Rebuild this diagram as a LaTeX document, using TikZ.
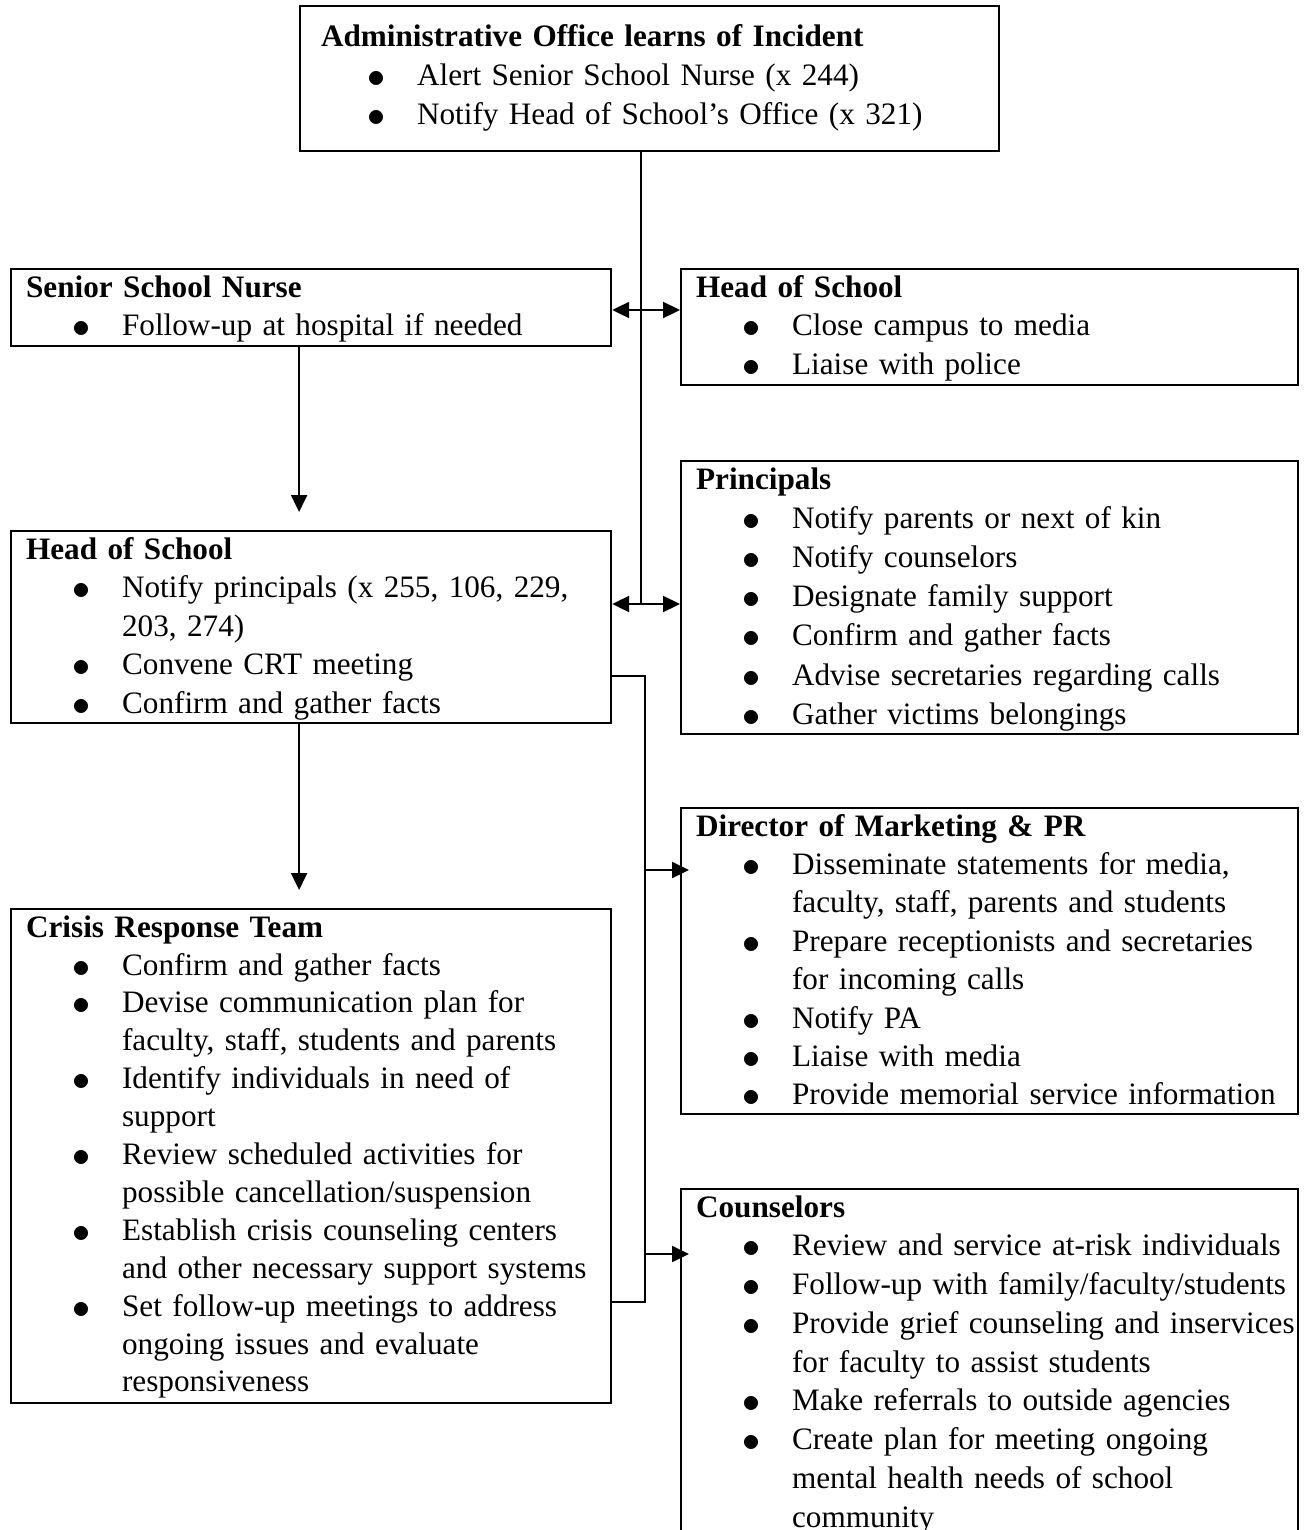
\documentclass[tikz,border=0pt]{standalone}
\usepackage{fontspec}
\setmainfont{Liberation Serif}
\usetikzlibrary{arrows.meta}

\newcommand\bulletmark{\raisebox{-2pt}{\scalebox{1.45}{$\bullet$}}}
\newenvironment{dotlist}{\begin{list}{\makebox[0pt][l]{\bulletmark}}{%
  \setlength{\leftmargin}{96pt}\setlength{\labelwidth}{0pt}%
  \setlength{\labelsep}{50pt}\setlength{\itemsep}{0pt}%
  \setlength{\rightmargin}{-200pt}%
  \setlength{\parsep}{0pt}\setlength{\topsep}{0pt}%
  \setlength{\partopsep}{0pt}\setlength{\itemindent}{0pt}}}{\end{list}}
\newcommand\row[1]{\mbox{#1}}

\begin{document}
\begin{tikzpicture}[x=1pt, y=-1pt,
    box/.style={draw, line width=2.2pt, anchor=north west, align=left,
      inner ysep=0pt, inner xsep=15pt, text height=28pt,
      font=\fontsize{31.2}{38.5}\selectfont},
    link/.style={line width=2.2pt},
    arr/.style={line width=2.2pt, -{Triangle[length=17pt,width=16pt]}},
    dbl/.style={line width=2.2pt,
      {Triangle[length=17pt,width=16pt]}-{Triangle[length=17pt,width=16pt]}}]
  \useasboundingbox (0,0) rectangle (1308,1530);

  % boxes
  \node[box, inner xsep=21pt, text width=657pt, text height=40pt, text depth=105pt,
        font=\fontsize{31.2}{39}\selectfont] (admin) at (299,5)
    {\textbf{Administrative Office learns of Incident}
     \begin{dotlist}
       \item \row{Alert Senior School Nurse (x 244)}
       \item \row{Notify Head of School’s Office (x 321)}
     \end{dotlist}};
  \node[box, text width=570pt, text depth=49pt] (nurse) at (10,268)
    {\textbf{Senior School Nurse}
     \begin{dotlist}
       \item \row{Follow-up at hospital if needed}
     \end{dotlist}};
  \node[box, text width=587pt, text depth=88pt] (hosR) at (680,268)
    {\textbf{Head of School}
     \begin{dotlist}
       \item \row{Close campus to media}
       \item \row{Liaise with police}
     \end{dotlist}};
  \node[box, text width=587pt, text depth=245pt,
        font=\fontsize{31.2}{39.2}\selectfont] (princ) at (680,460)
    {\textbf{Principals}
     \begin{dotlist}
       \item \row{Notify parents or next of kin}
       \item \row{Notify counselors}
       \item \row{Designate family support}
       \item \row{Confirm and gather facts}
       \item \row{Advise secretaries regarding calls}
       \item \row{Gather victims belongings}
     \end{dotlist}};
  \node[box, text width=570pt, text depth=164pt] (hosL) at (10,530)
    {\textbf{Head of School}
     \begin{dotlist}
       \item \row{Notify principals (x 255, 106, 229,}\\\row{203, 274)}
       \item \row{Convene CRT meeting}
       \item \row{Confirm and gather facts}
     \end{dotlist}};
  \node[box, text width=587pt, text depth=278pt,
        font=\fontsize{31.2}{38.4}\selectfont] (dir) at (680,807)
    {\textbf{Director of Marketing \& PR}
     \begin{dotlist}
       \item \row{Disseminate statements for media,}\\\row{faculty, staff, parents and students}
       \item \row{Prepare receptionists and secretaries}\\\row{for incoming calls}
       \item \row{Notify PA}
       \item \row{Liaise with media}
       \item \row{Provide memorial service information}
     \end{dotlist}};
  \node[box, text width=570pt, text depth=466pt,
        font=\fontsize{31.2}{37.9}\selectfont] (crt) at (10,908)
    {\textbf{Crisis Response Team}
     \begin{dotlist}
       \item \row{Confirm and gather facts}
       \item \row{Devise communication plan for}\\\row{faculty, staff, students and parents}
       \item \row{Identify individuals in need of}\\\row{support}
       \item \row{Review scheduled activities for}\\\row{possible cancellation/suspension}
       \item \row{Establish crisis counseling centers}\\\row{and other necessary support systems}
       \item \row{Set follow-up meetings to address}\\\row{ongoing issues and evaluate}\\\row{responsiveness}
     \end{dotlist}};
  \node[box, text width=587pt, text depth=380pt,
        font=\fontsize{31.2}{38.75}\selectfont] (couns) at (680,1188)
    {\textbf{Counselors}
     \begin{dotlist}
       \item \row{Review and service at-risk individuals}
       \item \row{Follow-up with family/faculty/students}
       \item \row{Provide grief counseling and inservices}\\\row{for faculty to assist students}
       \item \row{Make referrals to outside agencies}
       \item \row{Create plan for meeting ongoing}\\\row{mental health needs of school}\\\row{community}
     \end{dotlist}};

  % connectors
  \coordinate (spine) at (641,604);
  \coordinate (rail) at (645,870);
  \coordinate (rail2) at (645,1254);
  \draw[link] (admin.south -| spine) -- (spine);
  \draw[dbl] ([yshift=-42pt]nurse.north east) -- ([yshift=-42pt]hosR.north west);
  \draw[dbl] ([yshift=-74pt]hosL.north east) -- (princ.west |- spine);
  \draw[arr, shorten >=18pt] ([xshift=-12pt]nurse.south) -- ([xshift=-12pt]hosL.north);
  \draw[arr, shorten >=18pt] ([xshift=-12pt]hosL.south) -- ([xshift=-12pt]crt.north);
  \draw[link] ([yshift=-146pt]hosL.north east) -| (rail) |- ([yshift=-394pt]crt.north east);
  \draw[arr, shorten >=-9pt] (rail) -- (rail -| dir.west);
  \draw[arr, shorten >=-9pt] (rail2) -- (rail2 -| couns.west);
\end{tikzpicture}
\end{document}
